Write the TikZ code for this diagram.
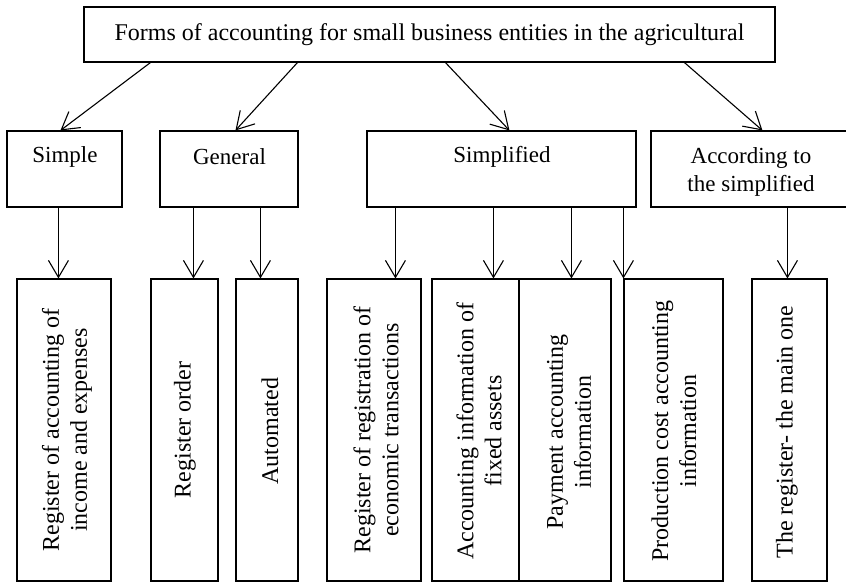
\documentclass[tikz,border=0pt]{standalone}
\usepackage{fontspec}
\setmainfont{Liberation Serif}
\usetikzlibrary{arrows.meta}

\begin{document}
\begin{tikzpicture}[x=1pt, y=-1pt,
        caja/.style={draw=black, line width=1.1pt, fill=white, inner sep=0pt},
        texto/.style={font=\fontsize{23}{28}\selectfont, align=center, inner sep=0pt},
        vertical/.style={font=\fontsize{24}{28}\selectfont, align=center, inner sep=0pt, rotate=90},
        flecha/.style={line width=1.1pt, draw=black, -{Straight Barb[length=17pt, width=20pt, line width=1.1pt]}}
    ]
    \useasboundingbox (0,0) rectangle (846,582);
    \clip (0,0) rectangle (846,582);

    % --- NIVEL 1 ---
    \node[caja, texto, font=\fontsize{24}{28}\selectfont, minimum width=691pt, minimum height=55pt] (forms) at (429.5,34.5) {Forms of accounting for small business entities in the agricultural};

    % --- NIVEL 2 ---
    \node[caja, minimum width=115pt, minimum height=76pt] (simple) at (64.5,169) {};
    \node[caja, minimum width=138pt, minimum height=76pt] (general) at (229,169) {};
    \node[caja, minimum width=269pt, minimum height=76pt] (simplified) at (501.5,169) {};
    \node[caja, minimum width=201pt, minimum height=76pt] (accord) at (751.5,169) {};

    \node[texto] (simpleT) at (65,157) {Simple};
    \node[texto] (generalT) at (229.5,157) {General};
    \node[texto] (simplifiedT) at (502,157) {Simplified};
    \node[texto] (accordT) at (751,172) {According to\\the simplified};

    \draw[flecha] ([xshift=67pt]forms.south west) -- ([xshift=54pt]simple.north west);
    \draw[flecha] ([xshift=214pt]forms.south west) -- ([xshift=76pt]general.north west);
    \draw[flecha] ([xshift=362pt]forms.south west) -- ([xshift=143pt]simplified.north west);
    \draw[flecha] ([xshift=601pt]forms.south west) -- ([xshift=112pt]accord.north west);

    % --- NIVEL 3 ---
    \node[caja, minimum width=94pt, minimum height=302pt] (reg1) at (64,430) {};
    \node[caja, minimum width=67pt, minimum height=302pt] (regord) at (184.5,430) {};
    \node[caja, minimum width=62pt, minimum height=302pt] (auto) at (267,430) {};
    \node[caja, minimum width=94pt, minimum height=302pt] (regtr) at (374,430) {};
    \node[caja, minimum width=87pt, minimum height=302pt] (fixas) at (475.5,430) {};
    \node[caja, minimum width=92pt, minimum height=302pt] (pay) at (565,430) {};
    \node[caja, minimum width=99pt, minimum height=302pt] (prod) at (673.5,430) {};
    \node[caja, minimum width=75pt, minimum height=302pt] (main) at (789.5,430) {};

    \node[vertical] (reg1T) at (67,430) {Register of accounting of\\income and expenses};
    \node[vertical] (regordT) at (185,430) {Register order};
    \node[vertical] (autoT) at (270,431) {Automated};
    \node[vertical] (regtrT) at (376,430) {Register of registration of\\economic transactions};
    \node[vertical] (fixasT) at (479,431) {Accounting information of\\fixed assets};
    \node[vertical] (payT) at (569,432) {Payment accounting\\information};
    \node[vertical] (prodT) at (674,431) {Production cost accounting\\information};
    \node[vertical] (mainT) at (787,432) {The register- the main one};

    \draw[flecha] ([xshift=52pt]simple.south west) -- ([xshift=42pt]reg1.north west);
    \draw[flecha] ([xshift=34pt]general.south west) -- ([xshift=43pt]regord.north west);
    \draw[flecha] ([xshift=101pt]general.south west) -- ([xshift=25pt]auto.north west);
    \draw[flecha] ([xshift=29pt]simplified.south west) -- ([xshift=69pt]regtr.north west);
    \draw[flecha] ([xshift=127pt]simplified.south west) -- ([xshift=62pt]fixas.north west);
    \draw[flecha] ([xshift=205pt]simplified.south west) -- ([xshift=53pt]pay.north west);
    \draw[flecha] ([xshift=257pt]simplified.south west) -- (prod.north west);
    \draw[flecha] ([xshift=137pt]accord.south west) -- ([xshift=36pt]main.north west);
\end{tikzpicture}
\end{document}
